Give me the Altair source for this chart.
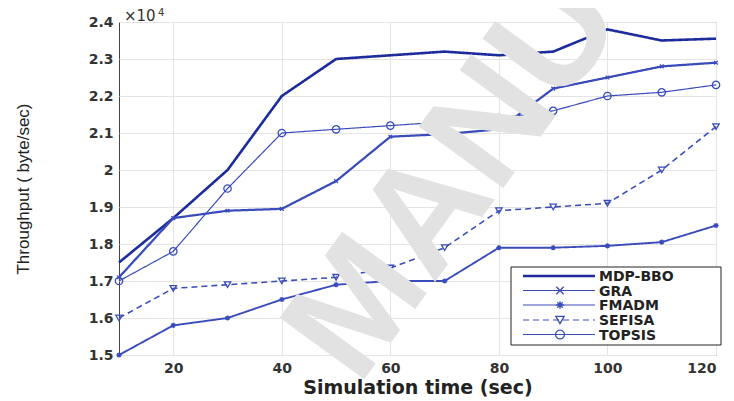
import altair as alt
import pandas as pd

times = [10, 20, 30, 40, 50, 60, 70, 80, 90, 100, 110, 120]
series_names = ["MDP-BBO", "GRA", "FMADM", "SEFISA", "TOPSIS"]
mdp_bbo = [1.75, 1.87, 2.00, 2.20, 2.30, 2.31, 2.32, 2.31, 2.32, 2.38, 2.35, 2.355]
gra = [1.71, 1.87, 1.89, 1.895, 1.97, 2.09, 2.097, 2.11, 2.22, 2.25, 2.28, 2.29]
fmadm = [1.50, 1.58, 1.60, 1.65, 1.69, 1.70, 1.70, 1.79, 1.79, 1.795, 1.805, 1.85]
sefisa = [1.60, 1.68, 1.69, 1.70, 1.71, 1.735, 1.79, 1.89, 1.90, 1.91, 2.00, 2.117]
topsis = [1.70, 1.78, 1.95, 2.10, 2.11, 2.12, 2.13, 2.14, 2.16, 2.20, 2.21, 2.23]
y_ticks = [15000, 16000, 17000, 18000, 19000, 20000, 21000, 22000, 23000, 24000]
x_ticks = [20, 40, 60, 80, 100, 120]

all_vals = [mdp_bbo, gra, fmadm, sefisa, topsis]
rows = []
for name, vals in zip(series_names, all_vals):
    for t, v in zip(times, vals):
        rows.append({"series": name, "time": t, "thr": v * 10000})
df = pd.DataFrame(rows)

DARK = "#1c2c9c"
MID = "#3a4cbc"
colors = [DARK, MID, MID, MID, MID]
widths = [2.6, 1.2, 1.2, 1.2, 1.2]
dashes = [[1, 0], [1, 0], [1, 0], [6, 4], [1, 0]]
X_SHAPE = "M-1,-1L1,1M-1,1L1,-1"
STAR = "M-1,0L1,0M0,-1L0,1M-0.7,-0.7L0.7,0.7M-0.7,0.7L0.7,-0.7"
shapes = ["circle", X_SHAPE, STAR, "triangle-down", "circle"]
sizes = [0, 55, 60, 70, 80]

W, H = 597, 333
FONT = "Liberation Sans"
BFONT = "DejaVu Sans"

xscale = alt.Scale(domain=[10, 120], nice=False, zero=False)
yscale = alt.Scale(domain=[15000, 24000], nice=False, zero=False)

xaxis = alt.Axis(values=x_ticks, title="Simulation time (sec)", grid=True,
                 domain=False, ticks=False, labelPadding=6,
                 titleFont=BFONT, titleFontSize=19, titleFontWeight="bold",
                 titlePadding=3)
yaxis = alt.Axis(values=y_ticks, grid=True,
                 labelExpr="'' + round(datum.value/1000)/10",
                 labelOverlap=False, labelFlush=False,
                 title="Throughput ( byte/sec)", domain=False, ticks=False,
                 labelPadding=6, titleFont=FONT, titleFontSize=17,
                 titleFontWeight="normal", titleX=-96, titleY=H / 2,
                 titleAlign="center", titleBaseline="middle")

color_enc = alt.Color("series:N", scale=alt.Scale(domain=series_names, range=colors), legend=None)

lines = alt.Chart(df).mark_line().encode(
    x=alt.X("time:Q", scale=xscale, axis=xaxis),
    y=alt.Y("thr:Q", scale=yscale, axis=yaxis),
    color=color_enc,
    strokeWidth=alt.StrokeWidth("series:N", scale=alt.Scale(domain=series_names, range=widths), legend=None),
    strokeDash=alt.StrokeDash("series:N", scale=alt.Scale(domain=series_names, range=dashes), legend=None),
    detail="series:N",
)

pts_df = df[df["series"] != "MDP-BBO"]
points = alt.Chart(pts_df).mark_point(filled=False, strokeWidth=1.3, opacity=1).encode(
    x=alt.X("time:Q", scale=xscale, axis=xaxis),
    y=alt.Y("thr:Q", scale=yscale, axis=yaxis),
    color=color_enc,
    shape=alt.Shape("series:N", scale=alt.Scale(domain=series_names, range=shapes), legend=None),
    size=alt.Size("series:N", scale=alt.Scale(domain=series_names, range=sizes), legend=None),
)

# watermark
wm = alt.Chart(pd.DataFrame({"t": ["MANU"]})).mark_text(
    fontSize=152, font=FONT, fontWeight="bold", color="#e2e2e2", angle=306,
    align="center", baseline="middle"
).encode(text="t:N", x=alt.value(336), y=alt.value(154))

# exponent label
expo = alt.Chart(pd.DataFrame({"t": ["\u00d710"]})).mark_text(
    fontSize=15, font=BFONT, color="#333", align="left", baseline="alphabetic"
).encode(text="t:N", x=alt.value(5), y=alt.value(-1))
expo4 = alt.Chart(pd.DataFrame({"t": ["4"]})).mark_text(
    fontSize=10, font=BFONT, color="#333", align="left", baseline="alphabetic"
).encode(text="t:N", x=alt.value(39), y=alt.value(-6))

# legend
LX0, LX1, LY0, LY1 = 392, 602, 245, 323
box = alt.Chart(pd.DataFrame({"a": [1]})).mark_rect(
    fill="white", stroke="#222", strokeWidth=1
).encode(x=alt.value(LX0), x2=alt.value(LX1), y=alt.value(LY0), y2=alt.value(LY1))

leg_layers = [box]
row_y = [254, 268.5, 283, 298, 312.5]
for i, name in enumerate(series_names):
    one = pd.DataFrame({"t": [name]})
    leg_layers.append(
        alt.Chart(one).mark_rule(color=colors[i], strokeWidth=widths[i], strokeDash=dashes[i]).encode(
            x=alt.value(404), x2=alt.value(476), y=alt.value(row_y[i]))
    )
    if sizes[i] > 0:
        leg_layers.append(
            alt.Chart(one).mark_point(shape=shapes[i], size=sizes[i], filled=False,
                                      color=colors[i], strokeWidth=1.3, opacity=1).encode(
                x=alt.value(441), y=alt.value(row_y[i]))
        )
    leg_layers.append(
        alt.Chart(one).mark_text(align="left", baseline="middle", font=BFONT, fontSize=14,
                                 fontWeight="bold", color="#222").encode(
            text="t:N", x=alt.value(480), y=alt.value(row_y[i] + 1))
    )

chart = alt.layer(lines, points, wm, expo, expo4, *leg_layers).properties(
    width=W, height=H, autosize="none",
    padding={"left": 111, "top": 14, "right": 10, "bottom": 44},
).configure_view(stroke="#444", strokeWidth=1).configure_axis(
    labelFont=BFONT, labelFontSize=14, labelFontWeight="bold", labelColor="#333",
    titleColor="#222", gridColor="#e4e4e4", gridWidth=1,
)

chart.save("out.html", embed_options={"renderer": "svg", "actions": False})
